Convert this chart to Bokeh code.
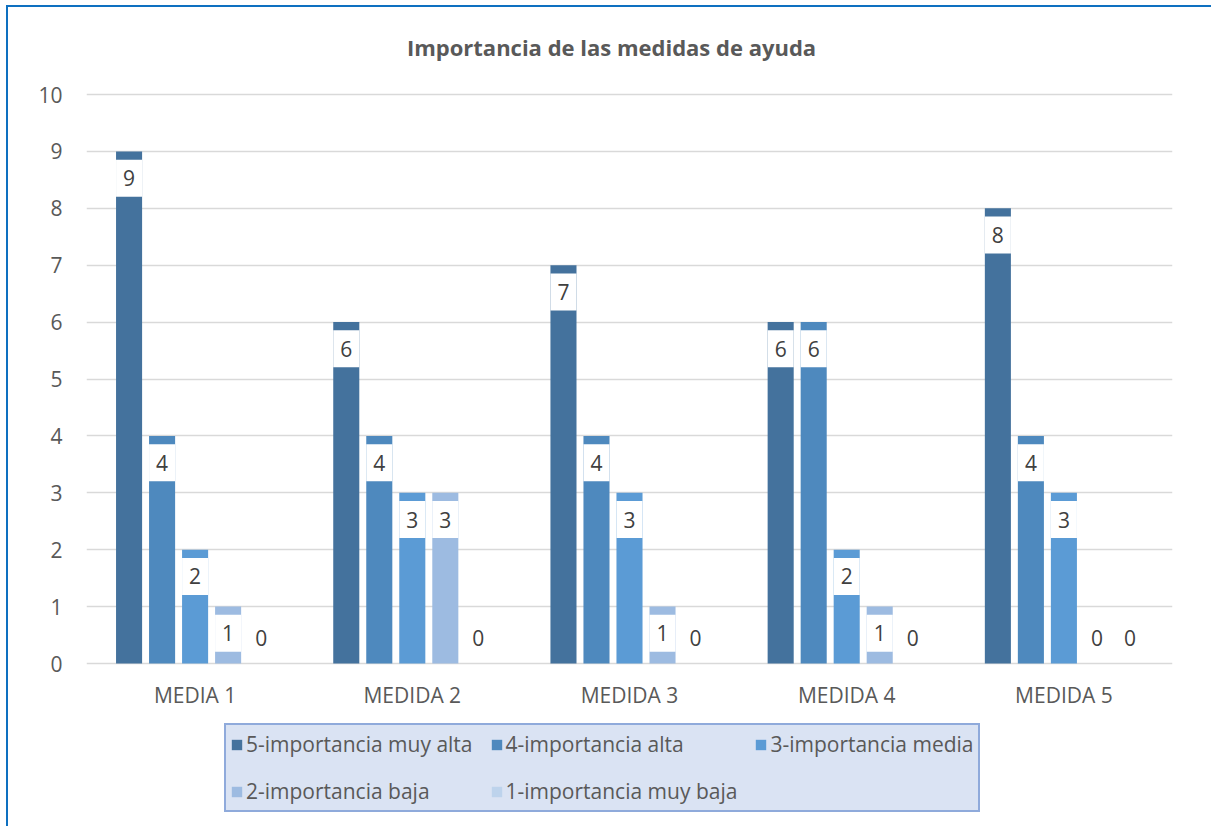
from bokeh.plotting import figure
from bokeh.models import ColumnDataSource, Legend, LegendItem, FactorRange, Range1d, FixedTicker, Label
from bokeh.transform import dodge
from bokeh.core.properties import value
from bokeh.embed import file_html
from bokeh.resources import INLINE

title_text = "Importancia de las medidas de ayuda"
categories = ["MEDIA 1", "MEDIDA 2", "MEDIDA 3", "MEDIDA 4", "MEDIDA 5"]
muy_alta = [9, 6, 7, 6, 8]
alta = [4, 4, 4, 6, 4]
media = [2, 3, 3, 2, 3]
baja = [1, 3, 1, 1, 0]
muy_baja = [0, 0, 0, 0, 0]
series_names = ["5-importancia muy alta", "4-importancia alta", "3-importancia media",
                "2-importancia baja", "1-importancia muy baja"]
series_values = [muy_alta, alta, media, baja, muy_baja]
y_ticks = list(range(11))

colors = ["#44729D", "#4E89BE", "#5B9BD5", "#9DBBE1", "#BDD3EC"]
offsets = [-0.304, -0.152, 0.0, 0.152, 0.304]
BAR_W = 0.12
FONT = "Open Sans"
W, H = 1205, 821
PX_PER_UNIT = 56.9          # 569 px for 10 units
TOP_PX = 87                 # canvas top to the "10" line
BOTTOM_PX = 165             # zero line to the canvas bottom

p = figure(x_range=FactorRange(factors=categories),
           y_range=Range1d(-BOTTOM_PX / PX_PER_UNIT, 10 + TOP_PX / PX_PER_UNIT),
           width=W, height=H, output_backend="svg", toolbar_location=None,
           min_border_left=78, min_border_right=41, min_border_top=0, min_border_bottom=0)
p.margin = (7, 0, 0, 8)
p.styles = {"box-shadow": "-2px -2px 0 0 #0E70C0"}
p.outline_line_color = None

p.add_layout(Label(x=525, y=H - 39, x_units="screen", y_units="screen", text=title_text,
                   text_align="center", text_baseline="middle", text_font=FONT,
                   text_font_size="22px", text_font_style="bold", text_color="#595959"))

items = []
for name, vals, color, off in zip(series_names, series_values, colors, offsets):
    ly = [v - 0.47 if v > 0 else 0.45 for v in vals]
    src = ColumnDataSource(dict(x=categories, top=vals, ly=ly, lbl=[str(v) for v in vals],
                                ba=[1.0 if v > 0 else 0.0 for v in vals]))
    xd = dodge("x", off, range=p.x_range)
    r = p.vbar(x=xd, top="top", bottom=0, width=BAR_W, source=src, fill_color=color, line_color=None)
    p.rect(x=xd, y="ly", width=BAR_W, height=37, height_units="screen", source=src,
           fill_color="white", fill_alpha="ba", line_color=None)
    p.text(x=xd, y="ly", text="lbl", source=src, text_align="center", text_baseline="middle",
           text_font=value(FONT), text_font_size="21px", text_color="#404040")
    items.append(LegendItem(label=name, renderers=[r]))

# category labels under the zero line
cat_src = ColumnDataSource(dict(x=categories, y=[0] * len(categories), t=categories))
p.text(x="x", y="y", text="t", source=cat_src, y_offset=31, text_align="center",
       text_baseline="middle", text_font=value(FONT), text_font_size="21px",
       text_color="#595959")

p.xaxis.visible = False
p.xgrid.grid_line_color = None
p.yaxis.ticker = FixedTicker(ticks=y_ticks)
p.ygrid.grid_line_color = "#D9D9D9"
p.ygrid.grid_line_width = 1.5
p.yaxis.axis_line_color = None
p.yaxis.major_tick_line_color = None
p.yaxis.minor_tick_line_color = None
p.yaxis.major_label_text_font = FONT
p.yaxis.major_label_text_font_size = "21px"
p.yaxis.major_label_text_color = "#595959"
p.yaxis.major_label_standoff = 18

legend = Legend(items=items, orientation="horizontal", ncols=3, location=(138, 16),
                background_fill_color="#DAE3F3", background_fill_alpha=1,
                border_line_color="#4472C4", border_line_width=2,
                label_text_font=FONT, label_text_font_size="21px", label_text_color="#595959",
                glyph_width=13, glyph_height=13, label_standoff=3, label_height=30,
                spacing=17, padding=4, margin=0)
p.add_layout(legend, "center")

open("out.html", "w").write(file_html(p, INLINE))
